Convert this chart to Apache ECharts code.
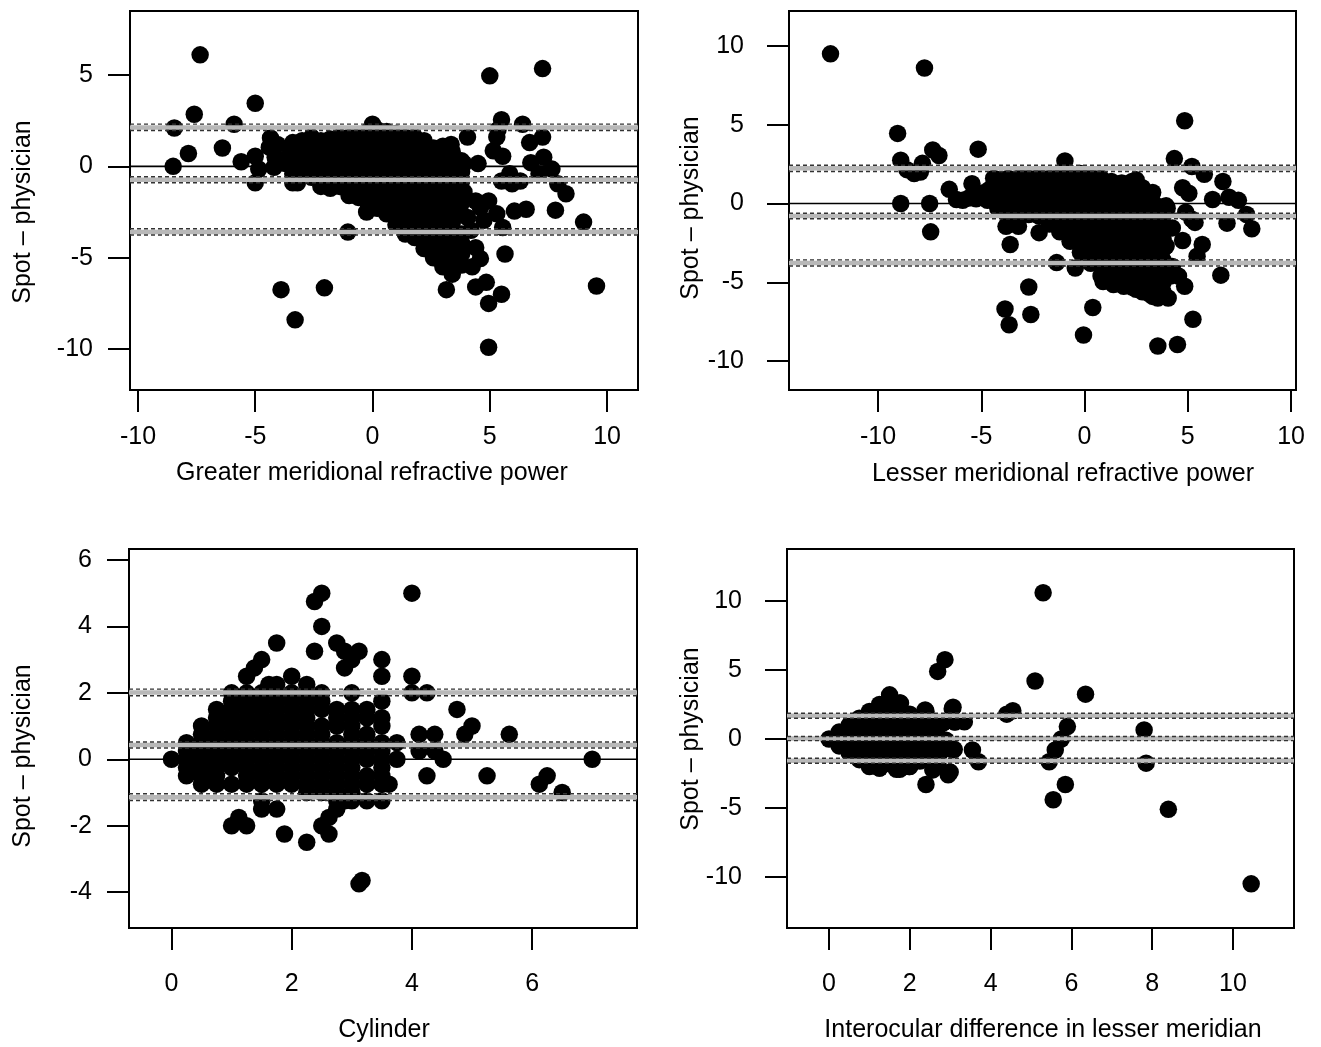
<!DOCTYPE html>
<html><head><meta charset="utf-8">
<script src="https://cdn.jsdelivr.net/npm/echarts@6/dist/echarts.min.js"></script>
<style>html,body{margin:0;padding:0;background:#fff}#c{width:1321px;height:1047px}</style>
</head><body><div id="c"></div>
<script>
// ---------- DATA ----------
// Panel 1: Greater meridional refractive power vs Spot - physician
const greaterPts = [
[-7.35,6.1],[-8.5,0.0],[-8.45,2.1],[-7.85,0.7],[-7.6,2.85],[-6.4,1.0],[-5.9,2.3],[-5.6,0.25],[-5.0,3.45],[-5.0,0.55],[-5.0,-0.9],[-4.85,-0.15],
[-4.35,1.55],[-4.4,1.05],[-4.15,0.5],[-4.05,1.2],[-3.7,0.15],[-4.2,-0.05],[-3.5,0.75],[-3.9,-6.75],[-3.3,-8.4],[-3.2,-0.9],[-2.05,-6.65],[-1.05,-3.6],[-0.25,-2.5],
[-3.4,1.3],[-3.4,0.7],[-3.4,0.2],[-3.4,-0.4],[-3.4,-0.9],
[-3.0,1.4],[-3.0,0.8],[-3.0,0.3],[-3.0,-0.3],
[-2.6,1.6],[-2.6,1.0],[-2.6,0.5],[-2.6,-0.1],[-2.6,-0.6],
[-2.2,1.4],[-2.2,0.9],[-2.2,0.3],[-2.2,-0.2],[-2.2,-0.7],[-2.2,-1.1],
[-1.8,1.5],[-1.8,0.9],[-1.8,0.4],[-1.8,-0.2],[-1.8,-0.7],[-1.8,-1.2],
[-1.4,1.6],[-1.4,1.0],[-1.4,0.5],[-1.4,-0.1],[-1.4,-0.6],[-1.4,-1.1],
[-1.0,1.6],[-1.0,1.1],[-1.0,0.5],[-1.0,0.0],[-1.0,-0.6],[-1.0,-1.1],[-1.0,-1.6],
[-0.6,1.7],[-0.6,1.1],[-0.6,0.6],[-0.6,0.0],[-0.6,-0.5],[-0.6,-1.1],[-0.6,-1.7],
[-0.2,1.9],[-0.2,1.3],[-0.2,0.8],[-0.2,0.2],[-0.2,-0.3],[-0.2,-0.9],[-0.2,-1.4],[-0.2,-2.0],
[0.0,2.3],
[0.2,2.0],[0.2,1.5],[0.2,1.0],[0.2,0.4],[0.2,-0.1],[0.2,-0.7],[0.2,-1.2],[0.2,-1.8],[0.2,-2.3],
[0.6,1.9],[0.6,1.3],[0.6,0.8],[0.6,0.2],[0.6,-0.3],[0.6,-0.9],[0.6,-1.4],[0.6,-2.0],[0.6,-2.6],
[1.0,1.8],[1.0,1.2],[1.0,0.7],[1.0,0.1],[1.0,-0.4],[1.0,-1.0],[1.0,-1.5],[1.0,-2.1],[1.0,-2.6],[1.0,-3.2],
[1.4,1.6],[1.4,1.1],[1.4,0.5],[1.4,0.0],[1.4,-0.6],[1.4,-1.1],[1.4,-1.7],[1.4,-2.2],[1.4,-2.8],[1.4,-3.3],[1.4,-3.7],
[1.8,1.6],[1.8,1.0],[1.8,0.5],[1.8,-0.1],[1.8,-0.6],[1.8,-1.2],[1.8,-1.7],[1.8,-2.3],[1.8,-2.8],[1.8,-3.4],[1.8,-3.9],
[2.2,1.4],[2.2,0.8],[2.2,0.3],[2.2,-0.3],[2.2,-0.8],[2.2,-1.4],[2.2,-1.9],[2.2,-2.5],[2.2,-3.0],[2.2,-3.6],[2.2,-4.1],[2.2,-4.5],
[2.6,1.0],[2.6,0.4],[2.6,-0.1],[2.6,-0.7],[2.6,-1.2],[2.6,-1.8],[2.6,-2.3],[2.6,-2.9],[2.6,-3.4],[2.6,-4.0],[2.6,-4.5],[2.6,-5.0],
[3.0,1.1],[3.0,0.5],[3.0,0.0],[3.0,-0.6],[3.0,-1.1],[3.0,-1.7],[3.0,-2.2],[3.0,-2.8],[3.0,-3.3],[3.0,-3.9],[3.0,-4.4],[3.0,-5.0],[3.0,-5.5],
[3.4,0.8],[3.4,0.2],[3.4,-0.3],[3.4,-0.9],[3.4,-1.4],[3.4,-2.0],[3.4,-2.5],[3.4,-3.1],[3.4,-3.6],[3.4,-4.2],[3.4,-4.7],[3.4,-5.3],[3.4,-5.9],
[3.8,0.3],[3.8,-0.3],[3.8,-0.8],[3.8,-1.4],[3.8,-2.0],[3.8,-2.6],[3.8,-3.7],[3.8,-4.2],[3.8,-4.8],[3.8,-5.4],
[3.15,-6.75],[4.05,1.6],[4.5,0.15],[4.4,-1.9],[4.6,-2.25],[4.75,-2.95],[4.2,-3.5],[4.05,-2.8],[4.4,-4.45],[4.6,-5.05],[4.25,-5.5],[4.4,-6.6],
[4.85,-6.35],[4.95,-7.5],[4.95,-9.9],[5.0,4.95],[5.5,-7.0],[5.65,-4.8],[5.5,2.55],[6.4,2.3],[6.55,-2.35],[6.05,-2.45],[7.25,5.35],[7.25,1.6],
[6.7,1.3],[6.75,0.2],[7.1,-0.4],[7.3,0.5],[7.65,-0.15],[7.9,-0.95],[8.25,-1.5],[7.8,-2.4],[9.0,-3.05],[9.55,-6.55],[5.15,0.85],[5.3,1.6],
[5.35,2.0],[5.55,0.55],[5.5,-0.8],[5.85,-0.4],[5.95,-0.95],[6.3,-0.8],[5.3,-2.6],[5.55,-3.35],[4.95,-1.9],[3.9,-1.4],[3.35,1.2],[3.9,0.15]
];
// Panel 2: Lesser meridional refractive power vs Spot - physician
const lesserPts = [
[-12.3,9.5],[-7.75,8.6],[-9.05,4.45],[-8.9,2.75],[-8.9,0.0],[-8.6,2.15],[-8.25,1.9],[-7.95,2.0],[-7.85,2.55],[-7.35,3.4],[-7.05,3.05],[-7.5,0.0],
[-7.45,-1.8],[-6.55,0.9],[-5.15,3.45],[-5.45,1.25],[-6.2,0.25],[-5.9,0.2],[-5.6,0.35],[-5.25,0.3],[-4.85,0.7],[-4.7,0.2],[-3.85,-6.7],[-3.65,-7.7],
[-2.6,-7.05],[-2.7,-5.3],[-1.35,-3.75],[-3.6,-2.6],[-3.8,-1.45],[-3.2,-1.45],[-2.2,-1.85],[-0.45,-4.1],[-0.05,-8.35],[0.4,-6.6],[-0.95,2.7],[-4.4,1.6],[-3.0,1.6],[-4.6,0.9],
[-4.2,1.5],[-4.2,0.9],[-4.2,0.3],[-4.2,-0.3],
[-3.7,1.6],[-3.7,1.0],[-3.7,0.3],[-3.7,-0.3],[-3.7,-0.8],
[-3.2,1.6],[-3.2,1.0],[-3.2,0.4],[-3.2,-0.2],[-3.2,-0.7],
[-2.7,1.6],[-2.7,1.0],[-2.7,0.4],[-2.7,-0.2],[-2.7,-0.7],
[-2.2,1.7],[-2.2,1.1],[-2.2,0.4],[-2.2,-0.2],[-2.2,-0.8],
[-1.7,1.6],[-1.7,1.0],[-1.7,0.4],[-1.7,-0.2],[-1.7,-0.8],[-1.7,-1.3],
[-1.2,1.8],[-1.2,1.2],[-1.2,0.5],[-1.2,-0.1],[-1.2,-0.7],[-1.2,-1.3],[-1.2,-1.8],
[-0.7,1.9],[-0.7,1.3],[-0.7,0.6],[-0.7,0.0],[-0.7,-0.6],[-0.7,-1.2],[-0.7,-1.8],[-0.7,-2.4],
[-0.2,1.9],[-0.2,1.3],[-0.2,0.6],[-0.2,0.0],[-0.2,-0.6],[-0.2,-1.3],[-0.2,-1.9],[-0.2,-2.5],[-0.2,-3.1],
[0.3,1.7],[0.3,1.1],[0.3,0.4],[0.3,-0.2],[0.3,-0.8],[0.3,-1.5],[0.3,-2.1],[0.3,-2.7],[0.3,-3.3],[0.3,-3.8],
[0.8,1.6],[0.8,1.0],[0.8,0.3],[0.8,-0.3],[0.8,-0.9],[0.8,-1.6],[0.8,-2.2],[0.8,-2.8],[0.8,-3.4],[0.8,-4.0],[0.8,-4.6],
[1.3,1.4],[1.3,0.8],[1.3,0.1],[1.3,-0.5],[1.3,-1.1],[1.3,-1.8],[1.3,-2.4],[1.3,-3.0],[1.3,-3.6],[1.3,-4.2],[1.3,-4.8],
[1.8,1.3],[1.8,0.7],[1.8,0.0],[1.8,-0.6],[1.8,-1.2],[1.8,-1.8],[1.8,-2.5],[1.8,-3.1],[1.8,-3.7],[1.8,-4.3],[1.8,-4.9],
[2.3,1.4],[2.3,0.8],[2.3,0.1],[2.3,-0.5],[2.3,-1.1],[2.3,-1.8],[2.3,-2.4],[2.3,-3.0],[2.3,-3.6],[2.3,-4.2],[2.3,-4.8],[2.3,-5.3],
[2.8,1.0],[2.8,0.4],[2.8,-0.2],[2.8,-0.8],[2.8,-1.5],[2.8,-2.1],[2.8,-2.7],[2.8,-3.3],[2.8,-3.9],[2.8,-4.5],[2.8,-5.1],[2.8,-5.6],
[3.3,0.7],[3.3,0.1],[3.3,-0.5],[3.3,-1.1],[3.3,-1.7],[3.3,-2.3],[3.3,-2.9],[3.3,-3.5],[3.3,-4.1],[3.3,-4.7],[3.3,-5.3],[3.3,-5.9],
[3.8,-0.2],[3.8,-0.8],[3.8,-1.5],[3.8,-2.2],[3.8,-2.9],[3.8,-3.6],[3.8,-4.3],[3.8,-5.0],[3.8,-5.6],
[0.9,-4.95],[1.4,-5.15],[1.9,-5.25],[2.5,-5.45],[3.1,-5.7],[3.55,-6.0],[4.05,-6.0],[3.55,-9.05],[4.5,-8.95],
[3.95,-0.15],[4.25,-1.55],[3.95,-2.7],[4.25,-4.0],[4.15,-4.6],[4.55,-4.6],[4.85,-5.25],[4.85,5.25],[4.35,2.85],[5.2,2.35],[5.8,1.85],[6.7,1.4],
[4.75,1.0],[5.05,0.65],[6.2,0.25],[7.0,0.4],[7.45,0.2],[6.9,-1.25],[7.85,-0.7],[8.1,-1.6],[4.9,-0.55],[5.2,-1.0],[5.35,-1.2],[4.75,-2.35],
[5.7,-2.6],[5.45,-3.35],[6.6,-4.55],[5.25,-7.35],[2.5,1.5],[4.0,-0.3]
];
// Panel 3: Cylinder vs Spot - physician
const cylinderPts = [
[0,0],
[0.25,0.5],[0.25,0.25],[0.25,0],[0.25,-0.25],[0.25,-0.5],
[0.5,1.0],[0.5,0.75],[0.5,0.5],[0.5,0.25],[0.5,0],[0.5,-0.25],[0.5,-0.5],[0.5,-0.75],
[0.75,1.5],[0.75,1.25],[0.75,1.0],[0.75,0.75],[0.75,0.5],[0.75,0.25],[0.75,0],[0.75,-0.25],[0.75,-0.5],[0.75,-0.75],
[1.0,2.0],[1.0,1.75],[1.0,1.5],[1.0,1.25],[1.0,1.0],[1.0,0.75],[1.0,0.5],[1.0,0.25],[1.0,0],[1.0,-0.25],[1.0,-0.75],[1.0,-2.0],
[1.12,-1.75],[1.25,-2.0],
[1.25,2.5],[1.25,2.0],[1.25,1.75],[1.25,1.5],[1.25,1.25],[1.25,1.0],[1.25,0.75],[1.25,0.5],[1.25,0.25],[1.25,0],[1.25,-0.25],[1.25,-0.5],[1.25,-0.75],
[1.38,2.75],
[1.5,3.0],[1.5,2.0],[1.5,1.75],[1.5,1.5],[1.5,1.25],[1.5,1.0],[1.5,0.75],[1.5,0.5],[1.5,0.25],[1.5,0],[1.5,-0.25],[1.5,-0.5],[1.5,-0.75],[1.5,-1.25],[1.5,-1.5],
[1.62,2.25],
[1.75,3.5],[1.75,2.25],[1.75,2.0],[1.75,1.75],[1.75,1.5],[1.75,1.25],[1.75,1.0],[1.75,0.75],[1.75,0.5],[1.75,0.25],[1.75,0],[1.75,-0.25],[1.75,-0.5],[1.75,-0.75],[1.75,-1.5],
[1.88,-2.25],
[2.0,2.5],[2.0,2.0],[2.0,1.75],[2.0,1.5],[2.0,1.25],[2.0,1.0],[2.0,0.75],[2.0,0.5],[2.0,0.25],[2.0,0],[2.0,-0.25],[2.0,-0.5],[2.0,-0.75],
[2.25,2.25],[2.25,2.0],[2.25,1.75],[2.25,1.5],[2.25,1.25],[2.25,1.0],[2.25,0.75],[2.25,0.5],[2.25,0.25],[2.25,0],[2.25,-0.25],[2.25,-0.5],[2.25,-0.75],[2.25,-1.0],[2.25,-2.5],
[2.38,4.75],[2.38,3.25],
[2.5,5.0],[2.5,4.0],[2.5,2.0],[2.5,1.75],[2.5,1.5],[2.5,1.0],[2.5,0.75],[2.5,0.5],[2.5,0.25],[2.5,0],[2.5,-0.25],[2.5,-0.5],[2.5,-0.75],[2.5,-1.0],[2.5,-2.0],
[2.62,-1.75],[2.62,-2.25],
[2.75,3.5],[2.75,1.5],[2.75,1.25],[2.75,1.0],[2.75,0.5],[2.75,0.25],[2.75,0],[2.75,-0.25],[2.75,-0.5],[2.75,-0.75],[2.75,-1.0],[2.75,-1.25],[2.75,-1.5],
[2.88,3.25],[2.88,2.75],[2.88,-1.25],
[3.0,3.0],[3.0,2.0],[3.0,1.5],[3.0,1.25],[3.0,1.0],[3.0,0.75],[3.0,0.5],[3.0,0.25],[3.0,0],[3.0,-0.25],[3.0,-0.5],[3.0,-0.75],[3.0,-1.0],[3.0,-1.25],
[3.12,3.25],[3.12,-3.75],[3.17,-3.65],
[3.25,1.5],[3.25,1.25],[3.25,0.75],[3.25,0.5],[3.25,0.25],[3.25,0],[3.25,-0.5],[3.25,-0.75],[3.25,-1.25],
[3.5,3.0],[3.5,2.5],[3.5,1.75],[3.5,1.25],[3.5,1.0],[3.5,0.5],[3.5,0.25],[3.5,0],[3.5,-0.25],[3.5,-0.5],[3.5,-0.75],[3.5,-1.25],
[3.62,-0.75],[3.75,0.5],[3.75,0],[4.0,5.0],[4.0,2.5],[4.0,2.0],[4.25,2.0],[4.12,0.75],[4.38,0.75],[4.12,0.25],[4.38,0.25],[4.52,0],
[4.25,-0.5],[4.75,1.5],[4.88,0.75],[5.0,1.0],[5.25,-0.5],[5.62,0.75],[6.12,-0.75],[6.25,-0.5],[6.5,-1.0],[7.0,0]
];
// Panel 4: Interocular difference in lesser meridian vs Spot - physician
const interocularPts = [
[0,0],
[0.25,0.5],[0.25,0],[0.25,-0.5],
[0.5,1.0],[0.5,0.5],[0.5,0],[0.5,-0.5],[0.5,-1.0],
[0.75,1.5],[0.75,0.9],[0.75,0.3],[0.75,-0.3],[0.75,-0.9],[0.75,-1.5],
[1.0,2.0],[1.0,1.4],[1.0,0.8],[1.0,0.2],[1.0,-0.4],[1.0,-1.0],[1.0,-1.6],[1.0,-2.0],
[1.25,2.5],[1.25,1.9],[1.25,1.3],[1.25,0.7],[1.25,0.1],[1.25,-0.5],[1.25,-1.1],[1.25,-1.7],[1.25,-2.1],
[1.5,3.0],[1.5,2.4],[1.5,1.8],[1.5,1.2],[1.5,0.6],[1.5,0.0],[1.5,-0.6],[1.5,-1.2],[1.5,-1.8],
[1.75,2.6],[1.75,2.0],[1.75,1.4],[1.75,0.8],[1.75,0.2],[1.75,-0.4],[1.75,-1.0],[1.75,-1.6],[1.75,-2.2],
[2.0,1.8],[2.0,1.2],[2.0,0.6],[2.0,0.0],[2.0,-0.6],[2.0,-1.2],[2.0,-2.0],
[2.25,1.3],[2.25,0.7],[2.25,0.1],[2.25,-0.5],[2.25,-1.1],[2.25,-1.6],
[2.5,1.0],[2.5,0.4],[2.5,-0.3],[2.5,-0.9],
[5.3,10.6],[2.87,5.75],[2.69,4.9],[5.1,4.2],[6.35,3.25],[10.45,-10.5],[7.8,0.65],[7.85,-1.75],[8.4,-5.1],[5.55,-4.4],[5.85,-3.3],[5.9,0.9],
[5.75,0.0],[5.6,-0.8],[5.45,-1.65],[4.4,1.8],[4.55,2.05],[3.55,-0.8],[3.7,-1.65],[3.35,1.25],[3.05,2.2],[3.1,1.25],[3.1,-0.75],[2.95,-2.6],
[2.7,-1.9],[2.4,-3.3],[2.4,2.0],[2.7,1.1],[2.9,-0.1],[2.2,1.0],[1.98,-2.0],[1.67,-2.2],[1.25,-2.1],[1.77,2.6],[1.5,3.2],[2.38,2.1],
[3.07,2.3],[3.12,1.23],[2.82,1.16],[2.67,0.65],[2.92,-0.3],[3.07,-0.8],[2.57,-2.24],[3.0,-2.4],[2.25,-1.52],[2.6,-0.5],[2.75,-1.0],[2.4,-1.3]
];

// Limits of agreement [upper, mean, lower] and their dashed confidence bounds
const greaterLimits = [2.13, -0.73, -3.59];
const greaterCI = [[1.96, 2.31], [-0.9, -0.57], [-3.76, -3.42]];
const lesserLimits = [2.23, -0.8, -3.78];
const lesserCI = [[2.03, 2.43], [-0.97, -0.62], [-3.97, -3.58]];
const cylinderLimits = [2.01, 0.43, -1.14];
const cylinderCI = [[1.91, 2.11], [0.34, 0.52], [-1.24, -1.04]];
const interocularLimits = [1.68, 0.04, -1.58];
const interocularCI = [[1.5, 1.86], [-0.12, 0.18], [-1.76, -1.4]];

// Tick labels
const greaterTicksX = [-10, -5, 0, 5, 10];
const greaterTicksY = [-10, -5, 0, 5];
const lesserTicksX = [-10, -5, 0, 5, 10];
const lesserTicksY = [-10, -5, 0, 5, 10];
const cylinderTicksX = [0, 2, 4, 6];
const cylinderTicksY = [-4, -2, 0, 2, 4, 6];
const interocularTicksX = [0, 2, 4, 6, 8, 10];
const interocularTicksY = [-10, -5, 0, 5, 10];

const yTitle = 'Spot \u2013 physician';

// ---------- LAYOUT ----------
const FONT = '"Liberation Sans", Arial, Helvetica, sans-serif';
const FS = 25;
const panels = [
  {pts: greaterPts, lim: greaterLimits, ci: greaterCI, xt: greaterTicksX, yt: greaterTicksY,
   box: [130, 11, 508, 379], xr: [-10.34, 11.32], yr: [-12.24, 8.5],
   xName: 'Greater meridional refractive power', xNamePos: [372, 473], yNamePos: [23, 212], xm: 35, ym: 37},
  {pts: lesserPts, lim: lesserLimits, ci: lesserCI, xt: lesserTicksX, yt: lesserTicksY,
   box: [789, 11, 507, 379], xr: [-14.31, 10.24], yr: [-11.84, 12.22],
   xName: 'Lesser meridional refractive power', xNamePos: [1063, 474], yNamePos: [691, 208], xm: 35, ym: 45},
  {pts: cylinderPts, lim: cylinderLimits, ci: cylinderCI, xt: cylinderTicksX, yt: cylinderTicksY,
   box: [129, 549, 508, 379], xr: [-0.707, 7.745], yr: [-5.08, 6.33],
   xName: 'Cylinder', xNamePos: [384, 1030], yNamePos: [23, 756], xm: 44, ym: 37},
  {pts: interocularPts, lim: interocularLimits, ci: interocularCI, xt: interocularTicksX, yt: interocularTicksY,
   box: [787, 549, 507, 379], xr: [-1.04, 11.51], yr: [-13.7, 13.77],
   xName: 'Interocular difference in lesser meridian', xNamePos: [1043, 1030], yNamePos: [691, 739], xm: 44, ym: 45}
];

const grid = [], xAxis = [], yAxis = [], series = [], graphic = [];
const tickStyle = {show: true, length: 22, inside: false, lineStyle: {color: '#000', width: 2}};
panels.forEach((p, i) => {
  grid.push({left: p.box[0], top: p.box[1], width: p.box[2], height: p.box[3],
    show: true, borderColor: '#000', borderWidth: 2, backgroundColor: 'rgba(0,0,0,0)',
    containLabel: false, outerBoundsMode: 'none'});
  xAxis.push({gridIndex: i, type: 'value', min: p.xr[0], max: p.xr[1],
    axisLine: {show: false, onZero: false},
    axisTick: Object.assign({customValues: p.xt}, tickStyle),
    axisLabel: {customValues: p.xt, margin: p.xm, color: '#000', fontSize: FS, fontFamily: FONT},
    splitLine: {show: false}});
  yAxis.push({gridIndex: i, type: 'value', min: p.yr[0], max: p.yr[1],
    axisLine: {show: false, onZero: false},
    axisTick: Object.assign({customValues: p.yt}, tickStyle),
    axisLabel: {customValues: p.yt, margin: p.ym, color: '#000', fontSize: FS, fontFamily: FONT},
    splitLine: {show: false}});
  series.push({type: 'scatter', xAxisIndex: i, yAxisIndex: i, data: p.pts, symbol: 'circle',
    symbolSize: 17.5, itemStyle: {color: '#000', opacity: 1}, z: 2, silent: true, animation: false});
  const hline = (v, style, z) => ({type: 'line', xAxisIndex: i, yAxisIndex: i,
    data: [[p.xr[0], v], [p.xr[1], v]], symbol: 'none', showSymbol: false, silent: true,
    animation: false, lineStyle: style, z: z});
  series.push(hline(0, {color: '#000', width: 1.6}, 3));
  p.lim.forEach(v => series.push(hline(v, {color: '#b8b8b8', width: 4.5}, 4)));
  p.ci.forEach(pair => pair.forEach(v =>
    series.push(hline(v, {color: '#333', width: 1.4, type: [4, 3]}, 5))));
  graphic.push({type: 'text', x: p.xNamePos[0], y: p.xNamePos[1], silent: true,
    style: {text: p.xName, fill: '#000', fontSize: FS, fontFamily: FONT,
      align: 'center', verticalAlign: 'middle', textAlign: 'center', textVerticalAlign: 'middle'}});
  graphic.push({type: 'text', x: p.yNamePos[0], y: p.yNamePos[1], rotation: Math.PI / 2, silent: true,
    style: {text: yTitle, fill: '#000', fontSize: FS, fontFamily: FONT,
      align: 'center', verticalAlign: 'middle', textAlign: 'center', textVerticalAlign: 'middle'}});
});

const chart = echarts.init(document.getElementById('c'), null, {renderer: 'canvas'});
chart.setOption({backgroundColor: '#fff', animation: false, grid, xAxis, yAxis, series, graphic});
</script></body></html>
